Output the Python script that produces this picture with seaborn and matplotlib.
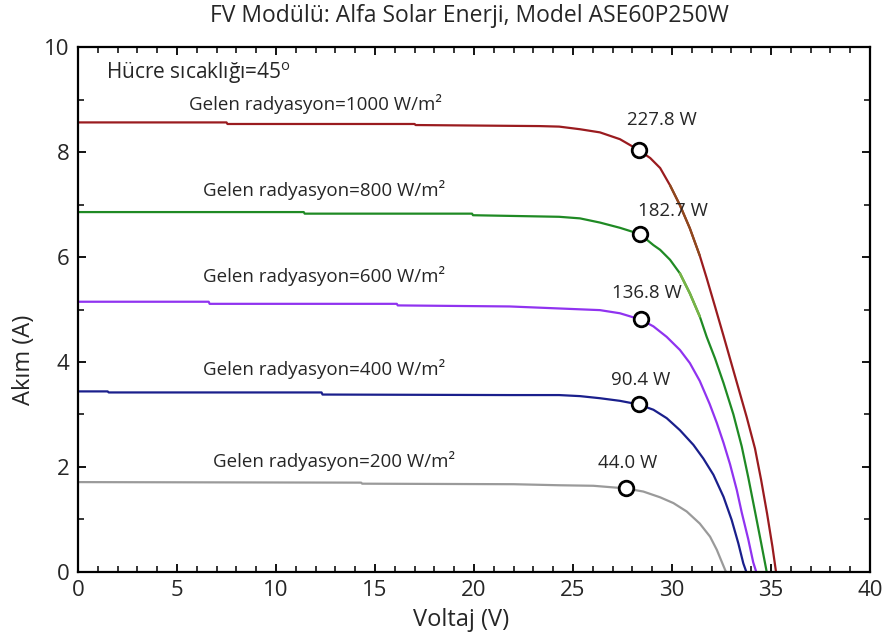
import matplotlib
matplotlib.use("Agg")
import matplotlib.pyplot as plt
from matplotlib.ticker import MultipleLocator
import pandas as pd
import seaborn as sns

# I-V curves of the PV module at 45 °C cell temperature, one per irradiance level
irradiance = [1000, 800, 600, 400, 200]
colors = ["#9a1b1f", "#1f8a24", "#9033f0", "#1a1f8c", "#9a9a9a"]

v_1000 = [0, 7.5, 7.55, 17.0, 17.05, 23.3, 24.3, 25.35, 26.36, 27.37, 28.33, 28.9, 29.4,
          29.9, 30.4, 30.9, 31.4, 31.75, 32.17, 32.6, 33.0, 33.43, 33.77, 34.19, 34.5,
          34.8, 35.07, 35.25]
i_1000 = [8.57, 8.57, 8.54, 8.54, 8.52, 8.50, 8.49, 8.44, 8.38, 8.25, 8.04, 7.89, 7.70,
          7.37, 6.99, 6.55, 6.03, 5.60, 5.06, 4.50, 3.97, 3.40, 2.95, 2.35, 1.75,
          1.11, 0.48, 0.0]

v_800 = [0, 11.4, 11.45, 19.9, 19.95, 24.3, 25.35, 26.36, 27.37, 28.38, 29.06, 29.4,
         29.9, 30.4, 30.9, 31.4, 31.75, 32.17, 32.6, 33.1, 33.52, 33.85, 34.19, 34.5, 34.78]
i_800 = [6.86, 6.86, 6.83, 6.83, 6.80, 6.77, 6.74, 6.66, 6.56, 6.44, 6.23, 6.14,
         5.95, 5.69, 5.31, 4.87, 4.48, 4.07, 3.60, 3.00, 2.39, 1.80, 1.15, 0.55, 0.0]

v_600 = [0, 6.6, 6.65, 16.1, 16.15, 21.8, 26.36, 27.37, 28.42, 29.06, 29.73, 30.4, 30.9,
         31.4, 31.9, 32.26, 32.6, 32.93, 33.27, 33.52, 33.85, 34.1, 34.25]
i_600 = [5.15, 5.15, 5.11, 5.11, 5.08, 5.06, 4.99, 4.93, 4.81, 4.68, 4.48, 4.23, 3.98,
         3.64, 3.20, 2.84, 2.46, 2.05, 1.56, 1.13, 0.62, 0.18, 0.0]

v_400 = [0, 1.5, 1.55, 12.3, 12.35, 21.8, 24.3, 25.35, 26.36, 27.37, 28.33, 29.06, 29.73,
         30.4, 31.08, 31.58, 32.09, 32.6, 33.01, 33.35, 33.6, 33.75]
i_400 = [3.44, 3.44, 3.42, 3.42, 3.38, 3.37, 3.37, 3.35, 3.31, 3.26, 3.19, 3.09, 2.93,
         2.70, 2.42, 2.16, 1.85, 1.43, 0.99, 0.54, 0.16, 0.0]

v_200 = [0, 14.3, 14.35, 22.0, 24.3, 26.03, 27.66, 28.55, 29.4, 30.07, 30.74, 31.4, 31.92,
         32.26, 32.5, 32.72]
i_200 = [1.71, 1.70, 1.68, 1.67, 1.65, 1.64, 1.59, 1.53, 1.42, 1.31, 1.15, 0.92, 0.67,
         0.42, 0.20, 0.0]

# Maximum power points
mpp_voltage = [28.33, 28.38, 28.42, 28.33, 27.66]
mpp_power = [227.8, 182.7, 136.8, 90.4, 44.0]

volt_sets = [v_1000, v_800, v_600, v_400, v_200]
curr_sets = [i_1000, i_800, i_600, i_400, i_200]

curves = pd.concat(
    [pd.DataFrame({"V": v, "I": c, "G": g}) for v, c, g in zip(volt_sets, curr_sets, irradiance)],
    ignore_index=True,
)
mpp = pd.DataFrame({
    "V": mpp_voltage,
    "I": [p / v for p, v in zip(mpp_power, mpp_voltage)],
    "P": mpp_power,
    "G": irradiance,
})

sns.set_style("ticks")
plt.rcParams["font.family"] = ["Open Sans", "DejaVu Sans"]
plt.rcParams["mathtext.fontset"] = "custom"
plt.rcParams["mathtext.rm"] = "Open Sans"
plt.rcParams["axes.linewidth"] = 1.6

fig = plt.figure(figsize=(8.86, 6.41), dpi=100)
ax = fig.add_axes([0.088, 0.108, 0.894, 0.818])

sns.lineplot(data=curves, x="V", y="I", hue="G", hue_order=irradiance,
             palette=colors, sort=False, estimator=None, linewidth=1.6,
             legend=False, ax=ax)

# lighter retouched stretches on the 1000 and 800 W/m² curves
tint_1000 = curves[(curves.G == 1000) & (curves.V >= 29.9) & (curves.V <= 31.4)]
tint_800 = curves[(curves.G == 800) & (curves.V >= 30.4) & (curves.V <= 31.4)]
sns.lineplot(data=tint_1000, x="V", y="I", sort=False, estimator=None,
             color="#8e4a1c", linewidth=1.6, ax=ax)
sns.lineplot(data=tint_800, x="V", y="I", sort=False, estimator=None,
             color="#78b446", linewidth=1.8, ax=ax)

sns.scatterplot(data=mpp, x="V", y="I", marker="o", s=110, color="white",
                edgecolor="black", linewidth=2.0, zorder=5, legend=False, ax=ax)

ax.set_xlim(0, 40)
ax.set_ylim(0, 10)
ax.xaxis.set_major_locator(MultipleLocator(5))
ax.xaxis.set_minor_locator(MultipleLocator(1))
ax.yaxis.set_major_locator(MultipleLocator(2))
ax.yaxis.set_minor_locator(MultipleLocator(1))
ax.tick_params(which="both", direction="in", top=True, right=True, color="black")
ax.tick_params(which="major", length=6, width=1.3, labelsize=16, pad=6)
ax.tick_params(which="minor", length=4, width=1.1)
for side in ax.spines.values():
    side.set_color("black")

ax.set_xlabel("Voltaj (V)", fontsize=17)
ax.xaxis.set_label_coords(0.484, -0.07)
ax.set_ylabel("Akım (A)", fontsize=17)
ax.yaxis.set_label_coords(-0.053, 0.404)
fig.text(0.53, 0.975, "FV Modülü: Alfa Solar Enerji, Model ASE60P250W",
         fontsize=16.5, ha="center", va="center")

ax.text(1.4, 9.52, r"Hücre sıcaklığı=45$^{\mathrm{o}}$", fontsize=15, va="center", ha="left")

label_pos = [(5.6, 8.93), (6.3, 7.28), (6.3, 5.64), (6.3, 3.87), (6.8, 2.11)]
for g, (x, y) in zip(irradiance, label_pos):
    ax.text(x, y, f"Gelen radyasyon={g} W/m²", fontsize=13.5, va="center", ha="left")

power_pos = [(29.5, 8.62), (30.05, 6.88), (28.75, 5.32), (28.4, 3.66), (27.75, 2.07)]
for p, (x, y) in zip(mpp_power, power_pos):
    ax.text(x, y, f"{p:.1f} W", fontsize=13.5, va="center", ha="center")

fig.savefig("out.png", dpi=100, facecolor="white")
